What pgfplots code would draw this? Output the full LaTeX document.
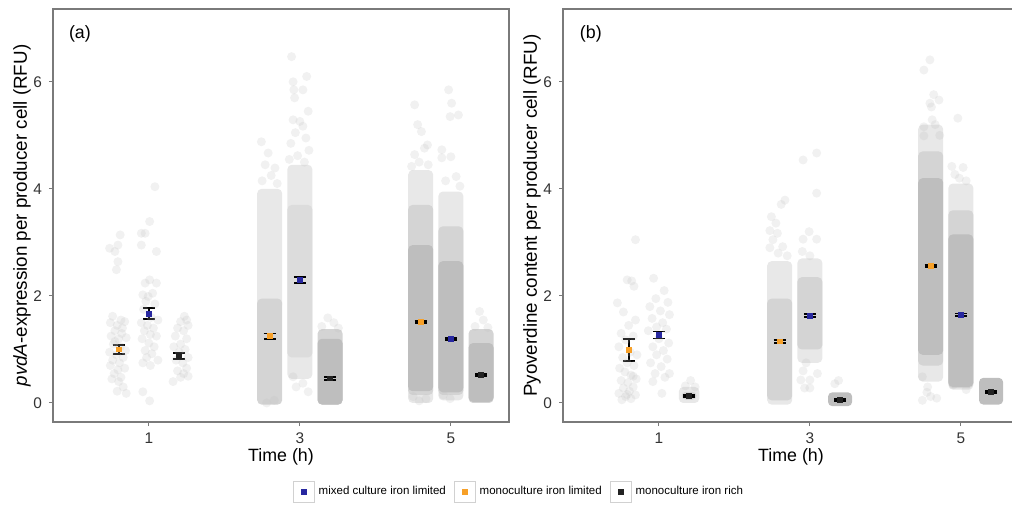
\documentclass[border=0pt]{standalone}
\usepackage{pgfplots}
\pgfplotsset{compat=1.18}
\usepackage{fontspec}
\setmainfont{Liberation Sans}
\definecolor{cloud}{HTML}{BEBEBE}
\definecolor{cmed}{HTML}{D4D4D4}
\definecolor{cmedb}{HTML}{DCDCDC}
\definecolor{clight}{HTML}{E8E8E8}
\definecolor{navy}{RGB}{40,40,160}
\definecolor{orng}{RGB}{247,160,40}
\definecolor{blk}{RGB}{35,35,35}
\definecolor{frame}{HTML}{7A7A7A}

\newcommand{\blob}[5]{\addplot[draw=none, fill=#5, rounded corners=2.2pt, forget plot] coordinates {(#1,#3) (#2,#3) (#2,#4) (#1,#4)} -- cycle;}
\newcommand{\spts}[1]{\addplot[only marks, mark=*, mark size=2.25pt, mark options={draw=cloud, fill=cloud, fill opacity=0.22, draw opacity=0}, forget plot] coordinates {#1};}
\newcommand{\mean}[4]{\addplot[forget plot, only marks, mark=square*, mark size=1.2pt, mark options={draw=#4, fill=#4}, error bars/.cd, y dir=both, y explicit, error bar style={black, line width=0.9pt}, error mark options={black, line width=0.9pt, mark size=3pt, rotate=90}] coordinates {(#1,#2) +- (0,#3)};}

\pgfplotsset{
  panel/.style={
    scale only axis, width=228pt, height=206.5pt,
    xmin=-0.27, xmax=5.77, ymin=-0.355, ymax=7.36,
    xtick={1,3,5}, ytick={0,2,4,6},
    tick align=outside, tick pos=left, major tick length=2pt,
    axis line style={frame, line width=0.6pt},
    tick style={frame, line width=0.5pt},
    ticklabel style={font=\fontsize{7.7}{8.5}\selectfont, text=black!80},
    /pgf/number format/assume math mode=true,
    xlabel={Time (h)},
    xlabel style={font=\fontsize{8.9}{10}\selectfont, at={(axis description cs:0.5,0)}, anchor=center, yshift=-17.5pt},
    ylabel style={font=\fontsize{9.4}{10}\selectfont, at={(axis description cs:0,0.5)}, anchor=center, yshift=15.5pt},
    clip=true,
  }
}

\begin{document}
\begin{tikzpicture}
\begin{axis}[panel, at={(26.5pt,41pt)}, anchor=south west,
  ylabel={\textit{pvdA}-expression per producer cell (RFU)},
  legend style={at={(1.024,-0.1695)}, anchor=center, legend columns=3, draw=none, fill=none,
    font=\fontsize{5.75}{7}\selectfont, /tikz/every even column/.append style={column sep=2pt}},
  legend cell align=left,
]
% ---- time 1 ----
\spts{(0.62,3.14) (0.48,2.89) (0.55,2.83) (0.59,2.95) (0.59,2.64) (0.57,2.49)
 (0.52,1.62) (0.63,1.55) (0.49,1.50) (0.58,1.45) (0.68,1.52) (0.55,1.35) (0.64,1.30) (0.50,1.25) (0.60,1.20) (0.70,1.22)
 (0.53,1.10) (0.62,1.05) (0.69,0.98) (0.48,0.95) (0.57,0.90) (0.66,0.85) (0.52,0.80) (0.61,0.75) (0.49,0.70) (0.59,0.62)
 (0.68,0.65) (0.54,0.55) (0.63,0.48) (0.51,0.45) (0.60,0.40) (0.66,0.30) (0.58,0.22) (0.70,0.18) (0.55,1.15) (0.65,1.40)}
\spts{(1.08,4.04) (1.01,3.39) (0.90,3.17) (0.95,3.17) (0.90,2.95) (1.10,2.83)
 (0.95,2.24) (1.01,2.30) (1.10,2.24) (0.92,2.02) (0.99,1.99) (1.05,2.05) (0.96,1.90) (1.08,1.85) (0.93,1.75) (1.03,1.60)
 (1.12,1.55) (0.90,1.50) (0.98,1.45) (1.06,1.40) (0.94,1.35) (1.02,1.28) (1.10,1.25) (0.91,1.20) (1.00,1.12) (1.07,1.05)
 (0.95,0.98) (1.04,0.92) (0.97,0.85) (1.12,0.80) (0.92,0.75) (1.02,0.70) (0.92,0.21) (1.01,0.04)}
\spts{(1.47,1.62) (1.50,1.55) (1.42,1.52) (1.52,1.45) (1.38,1.40) (1.46,1.35) (1.35,1.25) (1.50,1.20) (1.42,1.10) (1.33,1.05)
 (1.48,1.00) (1.40,0.95) (1.52,0.85) (1.36,0.80) (1.45,0.75) (1.50,0.65) (1.38,0.60) (1.46,0.55) (1.52,0.50) (1.42,0.48) (1.32,0.40)}
% ---- time 3 ----
\blob{2.435}{2.765}{1.75}{4.0}{clight}
\blob{2.435}{2.765}{-0.03}{1.95}{cmed}
\spts{(2.49,4.88) (2.58,4.67) (2.54,4.45) (2.67,4.39) (2.62,4.25) (2.50,4.15) (2.70,4.10) (2.56,0.00) (2.66,0.05)}
\blob{2.835}{3.165}{0.45}{4.45}{clight}
\blob{2.835}{3.165}{0.85}{3.7}{cmedb}
\spts{(2.89,6.47) (2.91,6.00) (3.09,6.10) (3.04,5.85) (2.92,5.85) (2.93,5.70) (3.11,5.45) (2.91,5.29) (3.00,5.26) (3.04,5.17)
 (2.94,5.05) (3.08,4.95) (2.88,4.85) (3.12,4.72) (2.97,4.62) (2.86,4.55) (3.06,4.50) (2.91,0.49) (3.04,0.37) (3.11,0.21) (2.95,0.30)}
\blob{3.235}{3.565}{-0.03}{1.38}{cmed}
\blob{3.235}{3.565}{-0.03}{1.2}{cloud}
\spts{(3.37,1.59) (3.29,1.43) (3.51,1.40) (3.45,1.50)}
% ---- time 5 ----
\blob{4.435}{4.765}{0.0}{4.35}{clight}
\blob{4.435}{4.765}{0.15}{3.7}{cmed}
\blob{4.435}{4.765}{0.22}{2.95}{cloud}
\spts{(4.52,5.57) (4.56,5.20) (4.61,5.07) (4.65,4.76) (4.69,4.82) (4.52,4.64) (4.48,4.42) (4.58,4.50) (4.70,4.45) (4.50,0.12) (4.58,0.04) (4.67,0.08)}
\blob{4.835}{5.165}{0.05}{3.95}{clight}
\blob{4.835}{5.165}{0.15}{3.3}{cmed}
\blob{4.835}{5.165}{0.2}{2.65}{cloud}
\spts{(4.97,5.85) (5.01,5.60) (4.99,5.35) (5.10,5.38) (4.88,4.73) (4.88,4.58) (5.00,4.60) (5.07,4.23) (4.93,4.15) (5.12,4.05) (4.99,0.08) (4.90,0.15)}
\blob{5.235}{5.565}{0.0}{1.38}{cmed}
\blob{5.235}{5.565}{0.02}{1.12}{cloud}
\spts{(5.38,1.71) (5.32,1.43) (5.49,1.41) (5.43,1.55)}
% ---- means ----
\mean{0.6}{1.00}{0.08}{orng}
\mean{1.0}{1.67}{0.10}{navy}
\mean{1.4}{0.88}{0.06}{blk}
\mean{2.6}{1.25}{0.05}{orng}
\mean{3.0}{2.30}{0.06}{navy}
\mean{3.4}{0.46}{0.03}{blk}
\mean{4.6}{1.51}{0.02}{orng}
\mean{5.0}{1.20}{0.02}{navy}
\mean{5.4}{0.52}{0.02}{blk}
\node[font=\fontsize{8.9}{10}\selectfont] at (rel axis cs:0.059,0.94) {(a)};
% legend
\addlegendimage{legend image code/.code={\draw[black!18, fill=white, line width=0.4pt] (0pt,-5.25pt) rectangle (10.5pt,5.25pt); \fill[navy] (4pt,-1.25pt) rectangle (6.5pt,1.25pt);}}
\addlegendentry{mixed culture iron limited}
\addlegendimage{legend image code/.code={\draw[black!18, fill=white, line width=0.4pt] (0pt,-5.25pt) rectangle (10.5pt,5.25pt); \fill[orng] (4pt,-1.25pt) rectangle (6.5pt,1.25pt);}}
\addlegendentry{monoculture iron limited}
\addlegendimage{legend image code/.code={\draw[black!18, fill=white, line width=0.4pt] (0pt,-5.25pt) rectangle (10.5pt,5.25pt); \fill[blk] (4pt,-1.25pt) rectangle (6.5pt,1.25pt);}}
\addlegendentry{monoculture iron rich}
\end{axis}

\begin{axis}[panel, at={(281.5pt,41pt)}, anchor=south west,
  ylabel={Pyoverdine content per producer cell (RFU)},
]
% ---- time 1 ----
\spts{(0.69,3.05) (0.45,1.87) (0.58,2.30) (0.64,2.28) (0.67,2.18) (0.53,1.70) (0.69,1.55) (0.60,1.45) (0.50,1.30) (0.66,1.25)
 (0.56,1.18) (0.47,1.05) (0.62,0.95) (0.71,0.90) (0.52,0.85) (0.58,0.75) (0.67,0.70) (0.48,0.65) (0.55,0.58) (0.63,0.52)
 (0.70,0.45) (0.50,0.42) (0.59,0.38) (0.66,0.30) (0.53,0.28) (0.61,0.22) (0.47,0.18) (0.69,0.15) (0.56,0.12) (0.63,0.08)
 (0.51,0.06) (0.58,0.16) (0.66,0.50)}
\spts{(0.93,2.33) (1.07,2.10) (0.96,1.95) (1.12,1.88) (0.88,1.80) (1.02,1.72) (1.14,1.65) (0.91,1.58) (1.05,1.50) (0.97,1.42)
 (1.10,1.38) (0.86,1.35) (1.00,1.20) (1.13,1.12) (0.92,1.05) (1.06,0.98) (0.97,0.90) (1.11,0.82) (0.89,0.75) (1.03,0.68)
 (0.95,0.55) (1.08,0.48) (0.92,0.40) (1.14,0.55) (1.04,0.18)}
\blob{1.265}{1.535}{0.0}{0.3}{clight}
\blob{1.30}{1.50}{0.06}{0.21}{cmed}
\spts{(1.42,0.42) (1.35,0.32) (1.48,0.30)}
% ---- time 3 ----
\blob{2.435}{2.765}{-0.03}{2.65}{clight}
\blob{2.435}{2.765}{0.05}{1.95}{cmed}
\spts{(2.67,3.79) (2.62,3.71) (2.49,3.48) (2.55,3.36) (2.47,3.22) (2.57,3.17) (2.51,3.05) (2.64,2.92) (2.47,2.90) (2.58,2.80) (2.70,2.75)}
\blob{2.835}{3.165}{0.75}{2.7}{clight}
\blob{2.835}{3.165}{1.0}{2.35}{cmed}
\spts{(2.91,4.54) (3.09,4.67) (3.09,3.92) (2.99,3.20) (2.91,3.06) (3.09,3.06) (2.90,2.83) (3.00,2.75)
 (2.88,0.43) (3.00,0.43) (2.93,0.28) (3.00,0.28) (2.91,0.60) (3.10,0.55) (2.95,0.75)}
\blob{3.24}{3.56}{-0.06}{0.2}{cloud}
\spts{(3.33,0.36) (3.38,0.42)}
% ---- time 5 ----
\blob{4.435}{4.765}{0.4}{5.2}{clight}
\blob{4.435}{4.765}{0.7}{4.7}{cmed}
\blob{4.435}{4.765}{0.9}{4.2}{cloud}
\spts{(4.59,6.41) (4.51,6.22) (4.64,5.76) (4.71,5.66) (4.59,5.60) (4.61,5.53) (4.62,5.29) (4.51,5.16) (4.72,5.00) (4.51,4.99) (4.66,5.20)
 (4.49,0.49) (4.56,0.30) (4.68,0.09) (4.55,0.20) (4.60,0.12) (4.49,0.05)}
\blob{4.835}{5.165}{0.25}{4.1}{clight}
\blob{4.835}{5.165}{0.28}{3.6}{cmed}
\blob{4.835}{5.165}{0.3}{3.15}{cloud}
\spts{(4.96,5.32) (4.88,4.42) (5.03,4.40) (4.92,4.27) (5.07,4.15) (4.98,4.20) (4.90,0.34) (5.07,0.25)}
\blob{5.24}{5.56}{-0.03}{0.47}{cloud}
% ---- means ----
\mean{0.6}{0.99}{0.21}{orng}
\mean{1.0}{1.27}{0.065}{navy}
\mean{1.4}{0.13}{0.02}{blk}
\mean{2.6}{1.15}{0.03}{orng}
\mean{3.0}{1.63}{0.03}{navy}
\mean{3.4}{0.06}{0.02}{blk}
\mean{4.6}{2.56}{0.02}{orng}
\mean{5.0}{1.65}{0.02}{navy}
\mean{5.4}{0.20}{0.02}{blk}
\node[font=\fontsize{8.9}{10}\selectfont] at (rel axis cs:0.061,0.94) {(b)};
\end{axis}
\pgfresetboundingbox
\useasboundingbox (0,0) rectangle (506pt,252pt);
\end{tikzpicture}
\end{document}
